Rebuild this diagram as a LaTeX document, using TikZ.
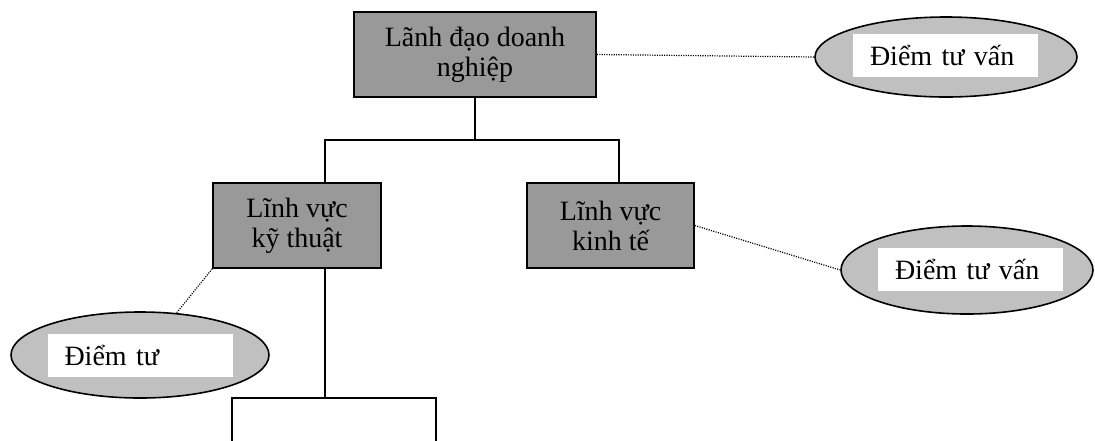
\documentclass[tikz,border=0pt]{standalone}
\usepackage{fontspec}
\setmainfont{Liberation Serif}
\usetikzlibrary{shapes.geometric}
\definecolor{boxgray}{RGB}{153,153,153}
\definecolor{ovalgray}{RGB}{192,192,192}
\tikzset{
  unit/.style={draw=black, line width=1.7pt, fill=boxgray, rectangle,
    align=center, inner sep=0pt, minimum height=85pt,
    font=\fontsize{28}{30}\selectfont},
  emptybox/.style={draw=black, line width=1.7pt, fill=white, rectangle,
    inner sep=0pt, minimum height=85pt},
  oval/.style={draw=black, line width=1.6pt, fill=ovalgray, ellipse,
    inner sep=0pt},
  tag/.style={fill=white, rectangle, inner xsep=17pt, inner ysep=0pt,
    text width=151pt, align=left, minimum height=43pt,
    font=\fontsize{28}{30}\selectfont},
  tree/.style={line width=1.6pt},
  hint/.style={line width=1.2pt, dash pattern=on 1.1pt off 1.3pt}
}
\begin{document}
\begin{tikzpicture}[x=1pt,y=-1pt]
  \useasboundingbox (0,0) rectangle (1095,440);
  \clip (0,0) rectangle (1095,440);

  % organisation boxes
  \node[unit, minimum width=242pt] (lead) at (475,54.5) {Lãnh đạo doanh\\nghiệp};
  \node[unit, minimum width=168pt] (tech) at (297,225.5) {Lĩnh vực\\kỹ thuật};
  \node[unit, minimum width=167pt] (econ) at (610.5,225.5) {Lĩnh vực\\kinh tế};
  \node[emptybox, minimum width=204pt] (sub) at (334,440.5) {};

  % advisory points
  \node[oval, minimum width=262pt, minimum height=80pt] (adv1) at (946,57) {};
  \node[tag] at (945.5,55.5) {Điểm tư vấn};
  \node[oval, minimum width=252pt, minimum height=88pt] (adv2) at (967,270) {};
  \node[tag] at (970.5,269.5) {Điểm tư vấn};
  \node[oval, minimum width=258pt, minimum height=86pt] (adv3) at (140,355) {};
  \node[tag] at (140,355.5) {Điểm tư};

  % hierarchy lines
  \coordinate (busL) at (325,140);
  \coordinate (busR) at (619,140);
  \draw[tree] (lead.south) -- (lead.south |- busL);
  \draw[tree] (busL |- tech.north) -- (busL) -- (busR) -- (busR |- econ.north);
  \draw[tree] (busL |- tech.south) -- (busL |- sub.north);

  % dotted links to advisory points
  \draw[hint] (lead.east) -- (adv1.west);
  \draw[hint] (econ.east) -- (adv2.west);
  \draw[hint] (tech.south west) -- (adv3.49);
\end{tikzpicture}
\end{document}
